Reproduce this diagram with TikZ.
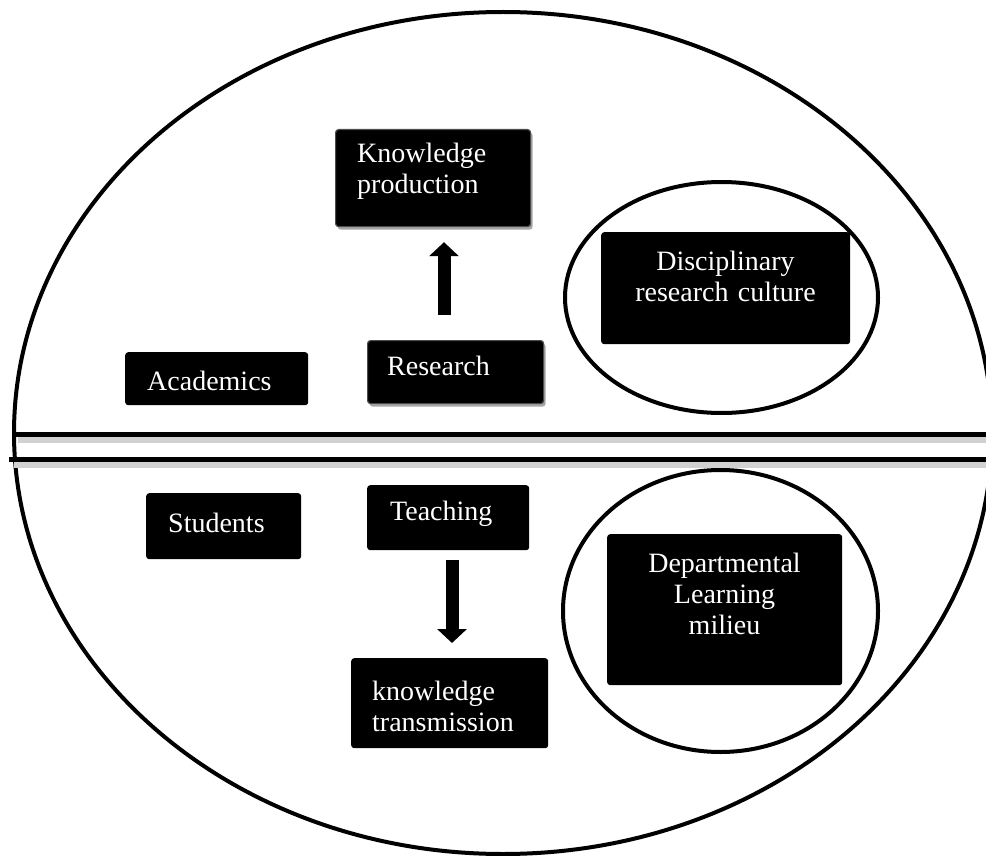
\documentclass[tikz,border=0pt]{standalone}
\usepackage{fontspec}
\setmainfont{Liberation Serif}
\usetikzlibrary{arrows.meta,shadows,calc}
\begin{document}
\begin{tikzpicture}[x=1pt,y=-1pt,
  blk/.style={fill=black, rounded corners=3pt, inner sep=0pt, anchor=north west},
  bev/.style={blk, draw=black!70, line width=1.2pt,
    drop shadow={shadow xshift=2pt,shadow yshift=-3pt,opacity=0.35,fill=black}},
  lbl/.style={text=white, font=\fontsize{28}{31}\selectfont, inner sep=0pt},
  lblL/.style={lbl, align=left, anchor=base west},
  lblC/.style={lbl, align=center, anchor=base},
  ring/.style={draw=black, line width=4pt},
  bar/.style={draw=black, line width=5pt},
  barshade/.style={draw=black!18, line width=6pt},
  fat/.style={line width=13pt, -{Triangle[width=29pt,length=14pt]}}
]
\useasboundingbox (0,0) rectangle (986,856);
\fill[white] (0,0) rectangle (986,856);

% outer ellipse
\draw[ring] (503,433) ellipse [x radius=489pt, y radius=421pt];

% dividing lines with soft shadow
\coordinate (L1a) at (15,434.5);
\coordinate (L1b) at (992,434.5);
\coordinate (L2a) at (9,459.5);
\coordinate (L2b) at (992,459.5);
\draw[barshade] ($(L1a)+(3,5)$) -- ($(L1b)+(0,5)$);
\draw[barshade] ($(L2a)+(5,5)$) -- ($(L2b)+(0,5)$);
\draw[bar] (L1a) -- (L1b);
\draw[bar] (L2a) -- (L2b);

% inner circles
\draw[ring] (721.5,297.5) ellipse [x radius=156.5pt, y radius=115.5pt];
\draw[ring] (720.5,611) ellipse [x radius=157.5pt, y radius=141pt];

% boxes
\node[bev, minimum width=195pt, minimum height=97pt] (kp) at (335,129) {};
\node[bev, minimum width=176pt, minimum height=63pt] (rs) at (367,340) {};
\node[blk, minimum width=183pt, minimum height=53pt] (ac) at (125,352) {};
\node[blk, minimum width=155pt, minimum height=66pt] (st) at (146,493) {};
\node[blk, minimum width=162pt, minimum height=65pt] (te) at (367,485) {};
\node[blk, minimum width=197pt, minimum height=90pt] (kt) at (351,658) {};
\node[blk, minimum width=249pt, minimum height=112pt] (dr) at (601,232) {};
\node[blk, minimum width=235pt, minimum height=151pt] (dl) at (607,534) {};

% labels
\node[lblL, text width=170pt] (kpt) at (357,163) {Knowledge\\production};
\node[lblL, text width=150pt] (rst) at (387,375) {Research};
\node[lblL, text width=160pt] (act) at (147,390) {Academics};
\node[lblL, text width=130pt] (stt) at (168,532) {Students};
\node[lblL, text width=140pt] (tet) at (390,520) {Teaching};
\node[lblL, text width=170pt] (ktt) at (372,700) {knowledge\\transmission};
\node[lblC, text width=240pt] (drt) at (725.5,270) {Disciplinary\\research culture};
\node[lblC, text width=230pt] (dlt) at (724.5,572) {Departmental\\Learning\\milieu};

% arrows
\coordinate (ax1) at (444,0);
\coordinate (ax2) at (452,0);
\draw[fat, shorten <=25pt, shorten >=15pt] (rs.north -| ax1) -- (kp.south -| ax1);
\draw[fat, shorten <=10pt, shorten >=15pt] (te.south -| ax2) -- (kt.north -| ax2);
\end{tikzpicture}
\end{document}
